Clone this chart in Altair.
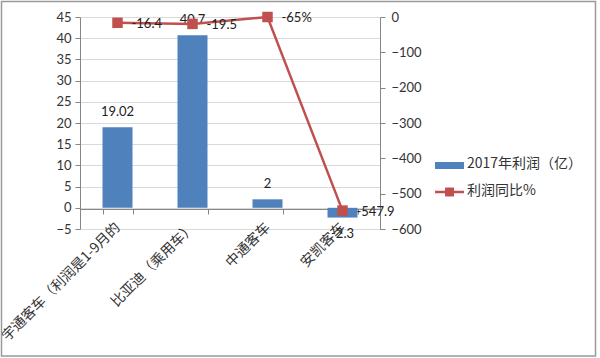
import altair as alt
import pandas as pd

categories = ["宇通客车（利润是1-9月的", "比亚迪（乘用车）", "中通客车", "安凯客车"]
profit = [19.02, 40.7, 2, -2.3]
profit_labels = ["19.02", "40.7", "2", "-2.3"]
yoy = [-16.4, -19.5, 0, -547.9]
yoy_labels = ["-16.4", "-19.5", "-65%", "-547.9"]
series_names = ["2017年利润（亿）", "利润同比%"]
left_ticks = [-5, 0, 5, 10, 15, 20, 25, 30, 35, 40, 45]
right_ticks = [-600, -500, -400, -300, -200, -100, 0]

BLUE = "#4F81BD"
RED = "#C0504D"
NUM_FONT = "Lato"
CJK_FONT = "Noto Sans CJK SC"
AXIS_GRAY = "#868686"

df = pd.DataFrame({"cat": categories, "profit": profit, "plabel": profit_labels,
                   "yoy": yoy, "ylabel": yoy_labels})

x_enc = alt.X(
    "cat:N", sort=categories, title=None,
    scale=alt.Scale(paddingInner=0.6, paddingOuter=0.3),
    axis=alt.Axis(offset=-20, domainColor=AXIS_GRAY, tickColor=AXIS_GRAY, tickSize=5,
                  tickBand="extent", labelAngle=-45, labelAlign="right", labelBaseline="middle",
                  labelPadding=11, labelFont=CJK_FONT, labelFontSize=14, labelColor="#333333",
                  labelLimit=400, grid=False),
)

y_left = alt.Y(
    "profit:Q", title=None,
    scale=alt.Scale(domain=[-5, 45], nice=False, zero=False),
    axis=alt.Axis(values=left_ticks, grid=True, gridColor="#D9D9D9", domainColor=AXIS_GRAY,
                  tickColor=AXIS_GRAY, tickSize=5, labelPadding=4, labelFont=NUM_FONT,
                  labelFontSize=13, labelColor="#333333"),
)

y_right = alt.Y(
    "yoy:Q", title=None,
    scale=alt.Scale(domain=[-600, 0], nice=False, zero=False),
    axis=alt.Axis(orient="right", values=right_ticks, grid=False, domainColor=AXIS_GRAY,
                  tickColor=AXIS_GRAY, tickSize=5, labelPadding=6, labelFont=NUM_FONT,
                  labelFontSize=13, labelColor="#333333"),
)

base = alt.Chart(df)

bars = base.mark_bar(color=BLUE).encode(x=x_enc, y=y_left)
bar_text_pos = base.transform_filter("datum.profit >= 0").mark_text(
    dy=-15, font=NUM_FONT, fontSize=13, color="#222222", baseline="middle"
).encode(x=x_enc, y=y_left, text="plabel:N")
bar_text_neg = base.transform_filter("datum.profit < 0").mark_text(
    dy=16, font=NUM_FONT, fontSize=13, color="#222222", baseline="middle"
).encode(x=x_enc, y=y_left, text="plabel:N")
left = alt.layer(bars, bar_text_pos, bar_text_neg)

line = base.mark_line(color=RED, strokeWidth=2.5).encode(x=x_enc, y=y_right)
pts = base.mark_point(shape="square", filled=True, color=RED, size=110, opacity=1).encode(x=x_enc, y=y_right)
line_text = base.mark_text(
    dx=14, dy=1, align="left", baseline="middle", font=NUM_FONT, fontSize=13, color="#222222"
).encode(x=x_enc, y=y_right, text="ylabel:N")
right = alt.layer(line, pts, line_text)

main = alt.layer(left, right).resolve_scale(y="independent")

# legend (drawn manually)
leg1 = pd.DataFrame({"name": [series_names[0]]})
leg2 = pd.DataFrame({"name": [series_names[1]]})
leg_rect = alt.Chart(leg1).mark_rect(color=BLUE).encode(
    x=alt.value(355), x2=alt.value(384), y=alt.value(145), y2=alt.value(152))
leg_text1 = alt.Chart(leg1).mark_text(align="left", baseline="middle", font=CJK_FONT,
                                      fontSize=14, color="#333333").encode(
    x=alt.value(387), y=alt.value(147), text="name:N")
leg_line = alt.Chart(leg2).mark_rule(color=RED, strokeWidth=2.5).encode(
    x=alt.value(355), x2=alt.value(384), y=alt.value(175))
leg_pt = alt.Chart(leg2).mark_point(shape="square", filled=True, color=RED, size=80, opacity=1).encode(
    x=alt.value(369.5), y=alt.value(175))
leg_text2 = alt.Chart(leg2).mark_text(align="left", baseline="middle", font=CJK_FONT,
                                      fontSize=14, color="#333333").encode(
    x=alt.value(387), y=alt.value(174), text="name:N")

frame = alt.Chart(leg1).mark_rect(filled=False, stroke="#9A9A9A", strokeWidth=1.5).encode(
    x=alt.value(-78.5), x2=alt.value(515.5), y=alt.value(-15.5), y2=alt.value(339))

chart = alt.layer(main, leg_rect, leg_text1, leg_line, leg_pt, leg_text2, frame).properties(
    width=300, height=212,
    autosize=alt.AutoSizeParams(type="none"),
    padding={"left": 80, "top": 17, "right": 220, "bottom": 129},
    background="white",
).configure_view(strokeWidth=0)

chart.save("out.html", embed_options={"renderer": "svg", "actions": False})
